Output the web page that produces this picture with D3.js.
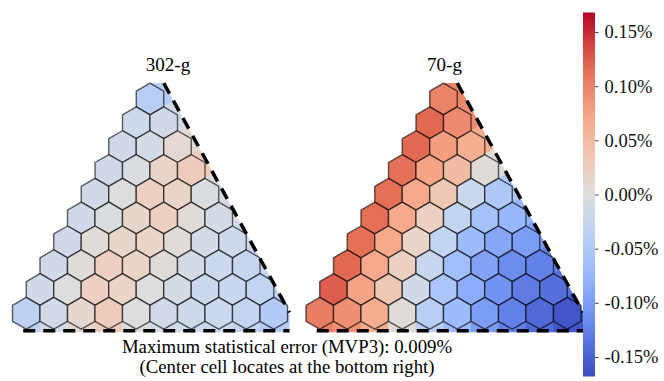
<!DOCTYPE html>
<html>
<head>
<meta charset="utf-8">
<script src="https://cdn.jsdelivr.net/npm/d3@7"></script>
<style>
  body { margin: 0; background: #fff; }
  svg { display: block; font-family: "Liberation Serif", "DejaVu Serif", serif; }
</style>
</head>
<body>
<div id="chart"></div>
<script>
var panelTitles = ['302-g', '70-g']

// difference per cell in %, top row first, left to right
var cells302 = [
  [-0.040],
  [-0.018, -0.015],
  [-0.015, -0.010, 0.010],
  [-0.015, -0.005, 0.020, 0.030],
  [-0.015, 0.000, 0.025, 0.020, -0.005],
  [-0.015, -0.005, 0.015, 0.025, 0.005, -0.010],
  [-0.015, 0.005, 0.015, 0.020, 0.005, -0.010, -0.018],
  [-0.015, 0.005, 0.025, 0.020, 0.005, -0.010, -0.020, -0.025],
  [-0.015, 0.000, 0.025, 0.020, 0.000, -0.010, -0.020, -0.025, -0.030],
  [-0.035, -0.012, 0.012, 0.030, 0.000, -0.012, -0.018, -0.022, -0.028, -0.045]
]

var cells70 = [
  [0.100],
  [0.120, 0.095],
  [0.120, 0.080, 0.065],
  [0.115, 0.075, 0.050, 0.005],
  [0.115, 0.070, 0.035, -0.020, -0.050],
  [0.115, 0.070, 0.025, -0.030, -0.060, -0.075],
  [0.115, 0.070, 0.020, -0.030, -0.070, -0.090, -0.100],
  [0.120, 0.070, 0.025, -0.025, -0.065, -0.095, -0.115, -0.125],
  [0.125, 0.075, 0.035, -0.015, -0.055, -0.085, -0.110, -0.130, -0.140],
  [0.105, 0.090, 0.065, 0.005, -0.040, -0.070, -0.100, -0.125, -0.145, -0.160]
]

var cbTicks = [0.15, 0.10, 0.05, 0, -0.05, -0.10, -0.15]
var cbDomain = [-0.168, 0.168]

var captionLines = ['Maximum statistical error (MVP3): 0.009%', '(Center cell locates at the bottom right)']

// coolwarm
var cmapStops = [0, 1/7, 2/7, 3/7, 0.5, 4/7, 5/7, 6/7, 1]
var cmapColors = ['#3b4cc0', '#6788ee', '#9abbff', '#c9d7f0', '#dddddd', '#edd1c2', '#f7a889', '#e26952', '#b40426']

var width = 664, height = 381
var hexW = 27.5
var hexR = hexW / Math.sqrt(3)
var serif = '"Liberation Serif", "DejaVu Serif", serif'

var svg = d3.select('#chart').append('svg')
  .attr('width', width)
  .attr('height', height)

var colour = d3.scaleLinear()
  .domain(cmapStops.map(t => cbDomain[0] + t * (cbDomain[1] - cbDomain[0])))
  .range(cmapColors)
  .clamp(true)

var panels = [
  {title: panelTitles[0], rows: cells302, cx: 150, cy: 99, titleX: 168},
  {title: panelTitles[1], rows: cells70, cx: 443.5, cy: 99, titleX: 444.5}
]

panels.forEach(function(p, pi) { drawPanel(p, pi) })
drawColorbar()

svg.append('g')
  .selectAll('text')
  .data(captionLines)
  .join('text')
    .attr('x', 287)
    .attr('y', (d, i) => 353 + i * 20)
    .attr('text-anchor', 'middle')
    .attr('font-family', serif)
    .style('font-size', '18.8px')
    .text(d => d)

function hexPoints(x, y) {
  var pts = []
  for (var i = 0; i < 6; i++) {
    var a = Math.PI / 180 * (60 * i - 90)
    pts.push([x + hexR * Math.cos(a), y + hexR * Math.sin(a)])
  }
  return pts
}

function drawPanel(p, pi) {
  var last = p.rows.length - 1
  var x = d3.scaleLinear().domain([-last / 2, last / 2]).range([p.cx - last / 2 * hexW, p.cx + last / 2 * hexW])
  var y = d3.scaleLinear().domain([0, last]).range([p.cy, p.cy + last * 1.5 * hexR])

  var cells = []
  p.rows.forEach(function(row, k) {
    row.forEach(function(v, j) {
      cells.push({x: x(j - k / 2), y: y(k), v: v})
    })
  })

  var g = svg.append('g')

  var yBase = y(last) + hexR + 1.5
  var xRight = x(last / 2) + hexW / 2 + 2
  var xLeft = x(-last / 2)
  var top = [p.cx, p.cy - hexR]
  var dashTop = [p.cx + hexW / 2, p.cy - hexR]
  var dashEnd = [xRight, y(last) - 1]
  var clipPoly = [top, dashTop, dashEnd, [xRight, yBase + 1.5], [xLeft - 3, yBase + 1.5], [xLeft, y(last) - hexR]]

  var clipId = 'tri-clip-' + pi
  svg.append('clipPath').attr('id', clipId)
    .append('polygon').attr('points', clipPoly.join(' '))

  // background fill up to the symmetry lines, nearest cell colour
  var vor = d3.Delaunay.from(cells, d => d.x, d => d.y).voronoi([0, 0, width, height])
  g.append('g')
    .attr('clip-path', 'url(#' + clipId + ')')
    .selectAll('path')
    .data(cells)
    .join('path')
      .attr('d', (d, i) => vor.renderCell(i))
      .attr('fill', d => colour(d.v))
      .attr('stroke', d => colour(d.v))
      .attr('stroke-width', 0.6)

  g.append('g')
    .selectAll('polygon')
    .data(cells)
    .join('polygon')
      .attr('points', d => hexPoints(d.x, d.y).join(' '))
      .attr('fill', d => colour(d.v))
      .attr('stroke', '#000')
      .attr('stroke-opacity', 0.62)
      .attr('stroke-width', 1.4)
      .attr('stroke-linejoin', 'round')

  g.append('line')
    .attr('x1', dashTop[0]).attr('y1', dashTop[1])
    .attr('x2', dashEnd[0]).attr('y2', dashEnd[1])
    .attr('stroke', '#000')
    .attr('stroke-width', 3.5)
    .attr('stroke-dasharray', '12,8')

  g.append('line')
    .attr('x1', xLeft - 3).attr('y1', yBase)
    .attr('x2', xRight).attr('y2', yBase)
    .attr('stroke', '#000')
    .attr('stroke-width', 3.5)
    .attr('stroke-dasharray', '12,8')

  g.append('text')
    .attr('x', p.titleX)
    .attr('y', 71)
    .attr('text-anchor', 'middle')
    .attr('font-family', serif)
    .style('font-size', '19px')
    .text(p.title)
}

function drawColorbar() {
  var cbY = d3.scaleLinear().domain(cbDomain).range([376.5, 12.5])

  var grad = svg.append('defs').append('linearGradient')
    .attr('id', 'cb-grad')
    .attr('x1', 0).attr('y1', 1)
    .attr('x2', 0).attr('y2', 0)
  grad.selectAll('stop')
    .data(d3.range(0, 1.0001, 0.05))
    .join('stop')
      .attr('offset', d => d)
      .attr('stop-color', d => colour(cbDomain[0] + d * (cbDomain[1] - cbDomain[0])))

  svg.append('rect')
    .attr('x', 583)
    .attr('y', cbY(cbDomain[1]))
    .attr('width', 12)
    .attr('height', cbY(cbDomain[0]) - cbY(cbDomain[1]))
    .attr('fill', 'url(#cb-grad)')

  var axis = svg.append('g')
    .attr('transform', 'translate(595,0)')
    .call(d3.axisRight(cbY).tickValues(cbTicks).tickFormat(d => d.toFixed(2) + '%').tickSize(3.5).tickPadding(6))

  axis.attr('font-family', serif)
  axis.select('.domain').remove()
  axis.selectAll('.tick line').attr('stroke', '#444')
  axis.selectAll('.tick text')
    .attr('fill', '#111')
    .style('font-size', '18.5px')
}
</script>
</body>
</html>
